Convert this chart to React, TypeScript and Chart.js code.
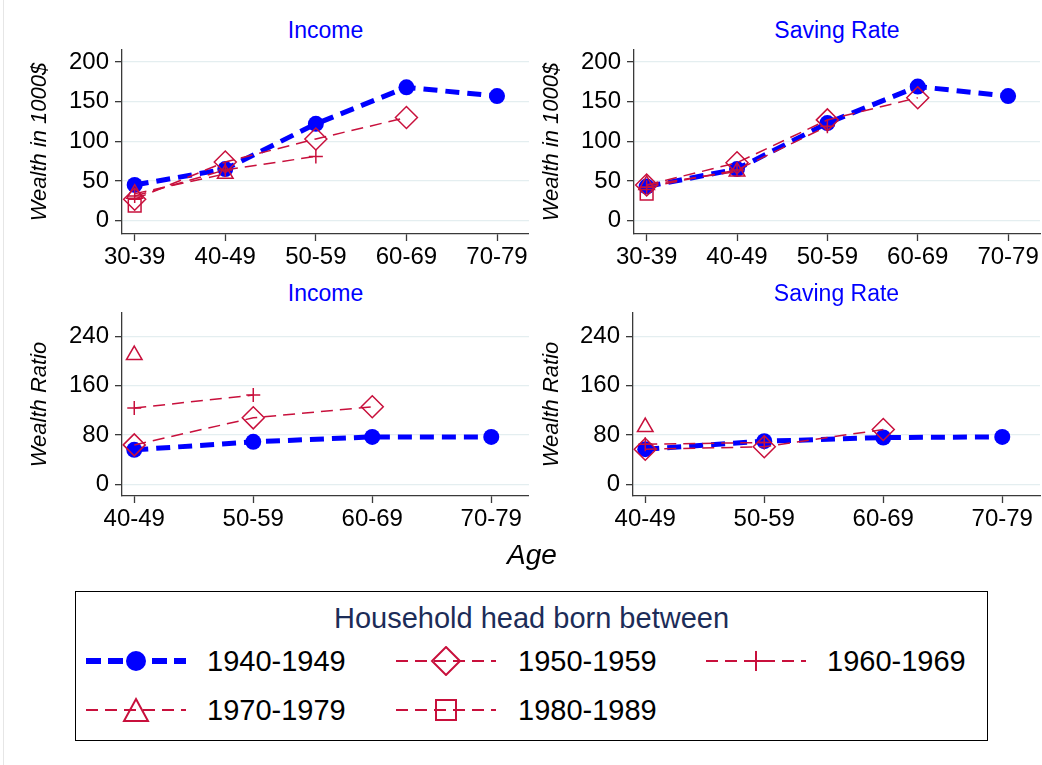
import { useEffect, useRef } from "react";
import { Chart, registerables } from "chart.js";

Chart.register(...registerables);

const FONT = "'Liberation Sans', Arial, sans-serif";
const BLUE = "#0000ff";
const RED = "#c8103c";
const AXIS = "#3a3a3a";
const GRID = "#e4eef0";

const cohorts = ["1940-1949", "1950-1959", "1960-1969", "1970-1979", "1980-1989"];
const wealthAges = ["30-39", "40-49", "50-59", "60-69", "70-79"];
const ratioAges = ["40-49", "50-59", "60-69", "70-79"];
const wealthTicks = [0, 50, 100, 150, 200];
const ratioTicks = [0, 80, 160, 240];

// wealth in 1000$, income panel
const incomeWealth1940 = [45, 65, 122, 168, 157];
const incomeWealth1950 = [27, 74, 103, 130, null];
const incomeWealth1960 = [31, 64, 81, null, null];
const incomeWealth1970 = [34, 59, null, null, null];
const incomeWealth1980 = [19, null, null, null, null];

// wealth in 1000$, saving rate panel
const savingWealth1940 = [43, 65, 123, 169, 157];
const savingWealth1950 = [45, 73, 127, 155, null];
const savingWealth1960 = [42, 64, 119, null, null];
const savingWealth1970 = [45, 62, null, null, null];
const savingWealth1980 = [34, null, null, null, null];

// wealth ratio, income panel
const incomeRatio1940 = [56, 69, 77, 77];
const incomeRatio1950 = [64, 108, 126, null];
const incomeRatio1960 = [124, 145, null, null];
const incomeRatio1970 = [210, null, null, null];
const incomeRatio1980 = [null, null, null, null];

// wealth ratio, saving rate panel
const savingRatio1940 = [57, 70, 76, 77];
const savingRatio1950 = [57, 61, 89, null];
const savingRatio1960 = [65, 68, null, null];
const savingRatio1970 = [93, null, null, null];
const savingRatio1980 = [null, null, null, null];

type Val = number | null;

const cohortStyle = [
  { color: BLUE, point: "circle", radius: 8, width: 5, dash: [14, 8], fill: BLUE, pw: 0, order: 9 },
  { color: RED, point: "rectRot", radius: 11, width: 1.5, dash: [12, 7], fill: "rgba(0,0,0,0)", pw: 1.5, order: 1 },
  { color: RED, point: "cross", radius: 7, width: 1.5, dash: [12, 7], fill: "rgba(0,0,0,0)", pw: 1.5, order: 2 },
  { color: RED, point: "triangle", radius: 9, width: 1.5, dash: [12, 7], fill: "rgba(0,0,0,0)", pw: 1.5, order: 3 },
  { color: RED, point: "rect", radius: 9, width: 1.5, dash: [12, 7], fill: "rgba(0,0,0,0)", pw: 1.5, order: 4 },
];

type PanelProps = {
  left: number;
  top: number;
  width: number;
  height: number;
  areaLeft: number;
  areaTop: number;
  areaBottom: number;
  areaRight: number;
  title: string;
  titleY: number;
  yTitle: string;
  yTitlePad: number;
  ages: string[];
  series: Val[][];
  yTicks: number[];
  yMin: number;
  yMax: number;
  xMin: number;
  xMax: number;
};

function Panel(p: PanelProps) {
  const chartRef = useRef<HTMLCanvasElement>(null);
  const chartInstance = useRef<Chart | null>(null);

  useEffect(() => {
    if (!chartRef.current) return;
    const ctx = chartRef.current.getContext("2d");
    if (!ctx) return;

    if (chartInstance.current) {
      chartInstance.current.destroy();
    }

    const datasets = p.series.map((vals, k) => {
      const s = cohortStyle[k];
      const pts = vals
        .map((v, i) => (v == null ? null : { x: i, y: v }))
        .filter((d) => d !== null) as { x: number; y: number }[];
      return {
        label: cohorts[k],
        data: pts,
        borderColor: s.color,
        borderWidth: s.width,
        borderDash: s.dash,
        pointStyle: s.point as any,
        pointRadius: s.radius,
        pointBackgroundColor: s.fill,
        pointBorderColor: s.color,
        pointBorderWidth: s.pw,
        tension: 0,
        fill: false,
        order: s.order,
      };
    });

    chartInstance.current = new Chart(ctx, {
      type: "line",
      data: { datasets },
      options: {
        animation: false,
        responsive: true,
        maintainAspectRatio: false,
        layout: {
          autoPadding: false,
          padding: { top: p.areaTop, right: p.width - p.areaRight, left: 0, bottom: 0 },
        },
        plugins: {
          legend: { display: false },
          title: { display: false },
          tooltip: { enabled: false },
        },
        scales: {
          x: {
            type: "linear",
            min: p.xMin,
            max: p.xMax,
            afterFit: (s: any) => {
              s.height = p.height - p.areaBottom;
              s.paddingLeft = 0;
              s.paddingRight = 0;
            },
            afterBuildTicks: (s: any) => {
              s.ticks = p.ages.map((_, i) => ({ value: i }));
            },
            ticks: {
              autoSkip: false,
              maxRotation: 0,
              padding: 2,
              color: "#000",
              font: { family: FONT, size: 24 },
              callback: (v: any) => p.ages[v] ?? "",
            },
            grid: {
              drawOnChartArea: false,
              drawTicks: true,
              tickLength: 7,
              tickColor: AXIS,
              tickWidth: 1.3,
            },
            border: { display: true, color: AXIS, width: 1.3 },
          },
          y: {
            min: p.yMin,
            max: p.yMax,
            afterFit: (s: any) => {
              s.width = p.areaLeft;
              s.paddingTop = 0;
              s.paddingBottom = 0;
            },
            afterBuildTicks: (s: any) => {
              s.ticks = p.yTicks.map((v) => ({ value: v }));
            },
            ticks: {
              padding: 6,
              color: "#000",
              font: { family: FONT, size: 24 },
            },
            grid: {
              color: GRID,
              lineWidth: 1.3,
              drawTicks: true,
              tickLength: 7,
              tickColor: AXIS,
              tickWidth: 1.3,
            },
            border: { display: true, color: AXIS, width: 1.3 },
            title: {
              display: true,
              text: p.yTitle,
              color: "#000",
              font: { family: FONT, size: 22, style: "italic" },
              padding: { top: p.yTitlePad, bottom: 0 },
            },
          },
        },
      },
    });

    return () => {
      if (chartInstance.current) {
        chartInstance.current.destroy();
        chartInstance.current = null;
      }
    };
  }, []);

  return (
    <>
      <div
        style={{
          position: "absolute",
          left: p.left + p.areaLeft,
          width: p.areaRight - p.areaLeft,
          top: p.titleY - 12,
          textAlign: "center",
          color: BLUE,
          fontSize: 23,
          lineHeight: "24px",
          fontFamily: FONT,
        }}
      >
        {p.title}
      </div>
      <div style={{ position: "absolute", left: p.left, top: p.top, width: p.width, height: p.height }}>
        <canvas ref={chartRef} />
      </div>
    </>
  );
}

function LegendSymbol({ k }: { k: number }) {
  const s = cohortStyle[k];
  const blue = k === 0;
  return (
    <svg width={100} height={30} style={{ display: "block" }}>
      <line
        x1={0}
        y1={15}
        x2={100}
        y2={15}
        stroke={s.color}
        strokeWidth={blue ? 6 : 2}
        strokeDasharray={blue ? "15 7" : "12 7"}
      />
      {k === 0 && <circle cx={50} cy={15} r={10} fill={BLUE} />}
      {k === 1 && <polygon points="50,1 64,15 50,29 36,15" fill="none" stroke={RED} strokeWidth={2} />}
      {k === 2 && <path d="M40 15 H60 M50 5 V25" stroke={RED} strokeWidth={2} fill="none" />}
      {k === 3 && <polygon points="50,4 62,26 38,26" fill="none" stroke={RED} strokeWidth={2} />}
      {k === 4 && <rect x={40} y={5} width={20} height={20} fill="none" stroke={RED} strokeWidth={2} />}
    </svg>
  );
}

const legendSlots = [
  { sx: 86, tx: 207, y: 661 },
  { sx: 396, tx: 518, y: 661 },
  { sx: 706, tx: 827, y: 661 },
  { sx: 86, tx: 207, y: 710 },
  { sx: 396, tx: 518, y: 710 },
];

export default function App() {
  const wealthX = { xMin: -0.14, xMax: 4.353 };
  const ratioX = { xMin: -0.103, xMax: 3.317 };
  const wealthY = { yMin: -16.8, yMax: 215.1 };
  const ratioY = { yMin: -19.1, yMax: 278.5 };

  return (
    <div
      style={{
        position: "absolute",
        left: 0,
        top: 0,
        width: 1042,
        height: 765,
        background: "#fff",
        fontFamily: FONT,
        overflow: "hidden",
      }}
    >
      <div style={{ position: "absolute", left: 3, top: 0, width: 1, height: 765, background: "#e6e6e6" }} />
      <Panel
        left={0}
        top={0}
        width={529}
        height={270}
        areaLeft={122}
        areaTop={50}
        areaBottom={234}
        areaRight={529}
        title="Income"
        titleY={30}
        yTitle="Wealth in 1000$"
        yTitlePad={27}
        ages={wealthAges}
        series={[incomeWealth1940, incomeWealth1950, incomeWealth1960, incomeWealth1970, incomeWealth1980]}
        yTicks={wealthTicks}
        {...wealthY}
        {...wealthX}
      />
      <Panel
        left={520}
        top={0}
        width={522}
        height={270}
        areaLeft={114}
        areaTop={50}
        areaBottom={234}
        areaRight={520}
        title="Saving Rate"
        titleY={30}
        yTitle="Wealth in 1000$"
        yTitlePad={19}
        ages={wealthAges}
        series={[savingWealth1940, savingWealth1950, savingWealth1960, savingWealth1970, savingWealth1980]}
        yTicks={wealthTicks}
        {...wealthY}
        {...wealthX}
      />
      <Panel
        left={0}
        top={270}
        width={529}
        height={280}
        areaLeft={122}
        areaTop={43}
        areaBottom={226}
        areaRight={529}
        title="Income"
        titleY={293}
        yTitle="Wealth Ratio"
        yTitlePad={27}
        ages={ratioAges}
        series={[incomeRatio1940, incomeRatio1950, incomeRatio1960, incomeRatio1970, incomeRatio1980]}
        yTicks={ratioTicks}
        {...ratioY}
        {...ratioX}
      />
      <Panel
        left={520}
        top={270}
        width={522}
        height={280}
        areaLeft={113}
        areaTop={43}
        areaBottom={226}
        areaRight={520}
        title="Saving Rate"
        titleY={293}
        yTitle="Wealth Ratio"
        yTitlePad={19}
        ages={ratioAges}
        series={[savingRatio1940, savingRatio1950, savingRatio1960, savingRatio1970, savingRatio1980]}
        yTicks={ratioTicks}
        {...ratioY}
        {...ratioX}
      />

      <div
        style={{
          position: "absolute",
          left: 0,
          width: 1042,
          top: 540,
          textAlign: "center",
          fontSize: 28,
          lineHeight: "30px",
          fontStyle: "italic",
          color: "#000",
          paddingLeft: 22,
          boxSizing: "border-box",
        }}
      >
        Age
      </div>

      <div
        style={{
          position: "absolute",
          left: 75,
          top: 591,
          width: 913,
          height: 150,
          border: "1px solid #000",
          boxSizing: "border-box",
        }}
      />
      <div
        style={{
          position: "absolute",
          left: 75,
          width: 913,
          top: 603,
          textAlign: "center",
          fontSize: 29,
          lineHeight: "30px",
          color: "#1c2c58",
        }}
      >
        Household head born between
      </div>
      {cohorts.map((c, k) => {
        const slot = legendSlots[k];
        return (
          <div key={c}>
            <div style={{ position: "absolute", left: slot.sx, top: slot.y - 15 }}>
              <LegendSymbol k={k} />
            </div>
            <div
              style={{
                position: "absolute",
                left: slot.tx,
                top: slot.y - 15,
                fontSize: 29,
                lineHeight: "30px",
                color: "#000",
                whiteSpace: "nowrap",
              }}
            >
              {c}
            </div>
          </div>
        );
      })}
    </div>
  );
}
